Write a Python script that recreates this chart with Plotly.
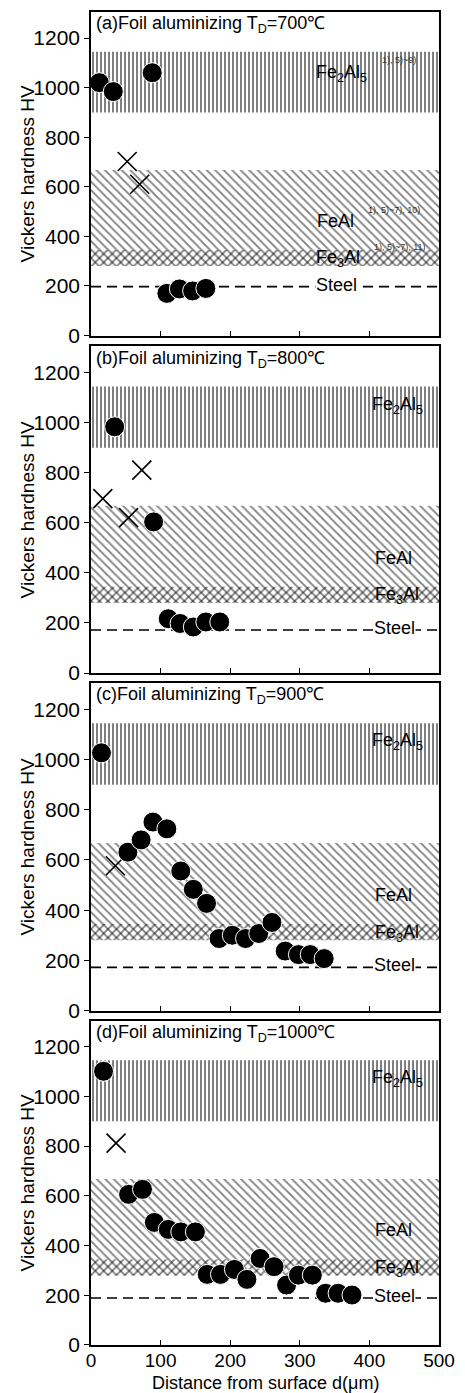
import plotly.graph_objects as go

# ---------------- data ----------------
temps = ["700", "800", "900", "1000"]
letters = ["a", "b", "c", "d"]

x_ticks = [0, 100, 200, 300, 400, 500]
y_ticks = [0, 200, 400, 600, 800, 1000, 1200]

# phase hardness bands (HV)
fe2al5_band = [900, 1145]
feal_band = [280, 668]
fe3al_band = [280, 345]

# steel hardness level per panel
steel_levels = [197, 172, 172, 189]

# (a) 700C
a_circle_x = [12, 32, 88, 109, 127, 146, 165]
a_circle_y = [1020, 984, 1060, 170, 188, 180, 190]
a_cross_x = [52, 70]
a_cross_y = [702, 610]

# (b) 800C
b_circle_x = [34, 90, 111, 128, 147, 165, 185]
b_circle_y = [984, 604, 217, 198, 184, 204, 204]
b_cross_x = [17, 73, 54]
b_cross_y = [697, 811, 621]

# (c) 900C
c_circle_x = [15, 53, 72, 89, 109, 129, 147, 166, 184, 203, 222, 241, 260, 279, 298, 315, 335]
c_circle_y = [1027, 631, 680, 751, 724, 556, 483, 427, 287, 300, 287, 307, 351, 237, 223, 223, 207]
c_cross_x = [35]
c_cross_y = [577]

# (d) 1000C
d_circle_x = [18, 54, 74, 91, 111, 129, 150, 167, 186, 206, 224, 243, 263, 281, 298, 318, 337, 355, 375]
d_circle_y = [1101, 606, 626, 493, 465, 455, 455, 284, 284, 304, 264, 348, 315, 241, 281, 281, 208, 208, 201]
d_cross_x = [36]
d_cross_y = [812]

circles_x = [a_circle_x, b_circle_x, c_circle_x, d_circle_x]
circles_y = [a_circle_y, b_circle_y, c_circle_y, d_circle_y]
crosses_x = [a_cross_x, b_cross_x, c_cross_x, d_cross_x]
crosses_y = [a_cross_y, b_cross_y, c_cross_y, d_cross_y]

x_range = [0, 500]
y_range = [0, 1305]

domains = [[0.7573, 1.0], [0.5041, 0.7491], [0.2509, 0.4966], [0.0, 0.2434]]

FONT = "Liberation Sans, Arial, Helvetica, sans-serif"

fig = go.Figure()


def band(lo, hi, shape, size, solidity, xa, ya):
    fig.add_trace(go.Scatter(
        x=[x_range[0], x_range[1], x_range[1], x_range[0], x_range[0]],
        y=[lo, lo, hi, hi, lo],
        mode="lines", line=dict(width=0, color="black"),
        fill="toself", fillcolor="rgba(255,255,255,0)",
        fillpattern=dict(shape=shape, size=size, solidity=solidity,
                         fgcolor="black", bgcolor="rgba(255,255,255,0)"),
        hoverinfo="skip", showlegend=False, xaxis=xa, yaxis=ya))


annotations = []
for i in range(4):
    xa = "x" if i == 0 else f"x{i+1}"
    ya = "y" if i == 0 else f"y{i+1}"
    band(fe2al5_band[0], fe2al5_band[1], "|", 4, 0.5, xa, ya)
    band(feal_band[0], feal_band[1], "\\", 6, 0.3, xa, ya)
    band(fe3al_band[0], fe3al_band[1], "/", 6, 0.3, xa, ya)
    fig.add_trace(go.Scatter(
        x=x_range, y=[steel_levels[i], steel_levels[i]], mode="lines",
        line=dict(color="black", width=1.7, dash="10px,6px"),
        hoverinfo="skip", showlegend=False, xaxis=xa, yaxis=ya))
    fig.add_trace(go.Scatter(
        x=crosses_x[i], y=crosses_y[i], mode="markers",
        marker=dict(symbol="x-thin", size=19, line=dict(color="black", width=1.6)),
        hoverinfo="skip", showlegend=False, xaxis=xa, yaxis=ya))
    fig.add_trace(go.Scatter(
        x=circles_x[i], y=circles_y[i], mode="markers",
        marker=dict(symbol="circle", size=20, color="black",
                    line=dict(color="white", width=1)),
        hoverinfo="skip", showlegend=False, xaxis=xa, yaxis=ya))

    # panel title
    annotations.append(dict(
        x=4, y=1254, xref=xa, yref=ya, xanchor="left", yanchor="middle",
        text=f"({letters[i]})Foil aluminizing T<sub>D</sub>={temps[i]}℃",
        showarrow=False, font=dict(size=18, color="black", family=FONT)))

    if i == 0:
        lab = [("Fe<sub>2</sub>Al<sub>5</sub>", 360, 1056),
               ("FeAl", 351, 460),
               ("Fe<sub>3</sub>Al", 355, 310)]
        sup = [("1), 5)~9)", 443, 1113),
               ("1), 5)~7), 10)", 436, 508),
               ("1), 5)~7), 11)", 444, 359)]
        steel_x = 353
        for t, xx, yy in sup:
            annotations.append(dict(
                x=xx, y=yy, xref=xa, yref=ya, text=t, showarrow=False,
                font=dict(size=9, color="#333", family=FONT)))
    else:
        lab = [("Fe<sub>2</sub>Al<sub>5</sub>", 440, 1071),
               ("FeAl", 434, 461),
               ("Fe<sub>3</sub>Al", 440, 308)]
        steel_x = 436
    for t, xx, yy in lab:
        annotations.append(dict(
            x=xx, y=yy, xref=xa, yref=ya, text=t, showarrow=False,
            font=dict(size=18, color="black", family=FONT)))
    annotations.append(dict(
        x=steel_x, y=steel_levels[i] + 8, xref=xa, yref=ya, text="Steel",
        showarrow=False, bgcolor="white", borderpad=0,
        font=dict(size=18, color="black", family=FONT)))

    # y-axis title for the panel
    annotations.append(dict(
        x=-0.182, y=sum(domains[i]) / 2, xref="paper", yref="paper",
        xanchor="center", yanchor="middle", textangle=-90,
        text="Vickers hardness HV", showarrow=False,
        font=dict(size=19, color="black", family=FONT)))

# x-axis title placed below bottom panel
annotations.append(dict(
    x=0.5, y=-0.0285, xref="paper", yref="paper", xanchor="center",
    yanchor="middle", text="Distance from surface d(μm)", showarrow=False,
    font=dict(size=18, color="black", family=FONT)))

layout = dict(
    width=465, height=1393,
    margin=dict(l=91, r=23, t=10, b=48),
    paper_bgcolor="white", plot_bgcolor="white",
    font=dict(family=FONT, color="black"),
    annotations=annotations,
    showlegend=False,
    hovermode=False,
)
for i in range(4):
    xk = "xaxis" if i == 0 else f"xaxis{i+1}"
    yk = "yaxis" if i == 0 else f"yaxis{i+1}"
    ya = "y" if i == 0 else f"y{i+1}"
    xa = "x" if i == 0 else f"x{i+1}"
    layout[xk] = dict(
        domain=[0, 1], anchor=ya, range=x_range, tickvals=x_ticks,
        showticklabels=(i == 3), ticks="inside", ticklen=5, tickwidth=1.2,
        tickcolor="black", showline=True, linecolor="black", linewidth=1.5,
        mirror=True, showgrid=False, zeroline=False,
        tickfont=dict(size=19, color="black", family=FONT),
        ticklabelstandoff=-3,
    )
    layout[yk] = dict(
        domain=domains[i], anchor=xa, range=y_range, tickvals=y_ticks,
        ticks="outside", ticklen=5, tickwidth=1.2, tickcolor="black",
        showline=True, linecolor="black", linewidth=1.5, mirror=True,
        showgrid=False, zeroline=False,
        tickfont=dict(size=21, color="black", family=FONT),
    )

fig.update_layout(**layout)
fig.write_html("out.html", config={"displayModeBar": False},
               post_script="document.body.style.margin='0px';document.body.style.overflow='hidden';")
